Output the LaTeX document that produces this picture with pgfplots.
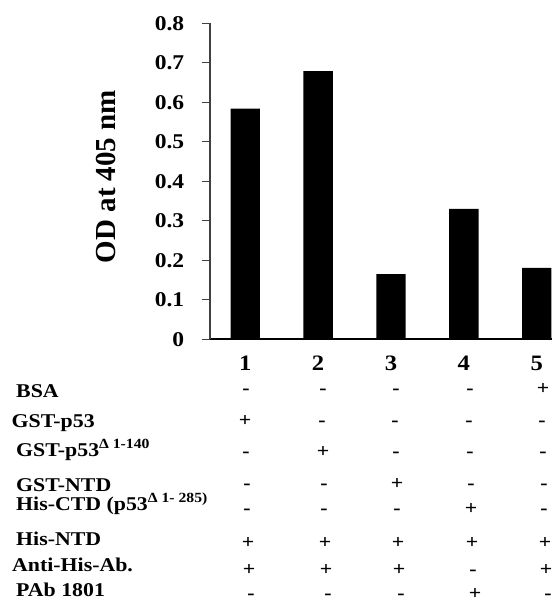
\documentclass[border=0pt]{standalone}
\usepackage{pgfplots}
\pgfplotsset{compat=1.18}
\usepackage{fontspec}
\setmainfont{Liberation Serif}
\newfontfamily\wide{Liberation Serif}[FakeStretch=1.12]
\newcommand\tfont{\wide\bfseries\fontsize{19.5bp}{22bp}\selectfont}
\newcommand\sfont{\wide\bfseries\fontsize{14bp}{15bp}\selectfont}
% signs row: #1 = centre y of the signs, #2 = x drift, #3..#7 = signs
\newcommand\signs[7]{%
  \node[font=\tfont,inner sep=0pt,anchor=base] at ({246+#2},{-#1-4.6}) {#3};
  \node[font=\tfont,inner sep=0pt,anchor=base] at ({323+#2},{-#1-4.6}) {#4};
  \node[font=\tfont,inner sep=0pt,anchor=base] at ({396+#2},{-#1-4.6}) {#5};
  \node[font=\tfont,inner sep=0pt,anchor=base] at ({470+#2},{-#1-4.6}) {#6};
  \node[font=\tfont,inner sep=0pt,anchor=base] at ({543+#2},{-#1-4.6}) {#7};
}
\begin{document}
\begin{tikzpicture}[x=1bp,y=1bp]
\path[use as bounding box] (0,0) rectangle (556,-603);
\begin{axis}[
  at={(210bp,-339.3bp)}, anchor=south west,
  scale only axis, width=342bp, height=316bp,
  xmin=0.517, xmax=5.209, ymin=0, ymax=0.8,
  axis lines=left,
  x axis line style={-, black, line width=1.8bp},
  y axis line style={-, black!75, line width=1.1bp},
  ytick={0,0.1,0.2,0.3,0.4,0.5,0.6,0.7,0.8},
  yticklabels={0,0.1,0.2,0.3,0.4,0.5,0.6,0.7,0.8},
  xtick={1,2,3,4,5},
  xticklabels={1,2,3,4,5},
  tick align=outside,
  major tick length=8bp,
  ytick style={black!75, line width=1.1bp},
  xtick style={draw=none},
  yticklabel style={font=\wide\bfseries\fontsize{21bp}{24bp}\selectfont, anchor=east, inner sep=0pt, xshift=-17.6bp},
  xticklabel style={font=\wide\bfseries\fontsize{22bp}{24bp}\selectfont, anchor=base, inner sep=0pt, yshift=-23.5bp},
  ylabel={OD at 405 nm},
  ylabel style={font=\bfseries\fontsize{29bp}{32bp}\selectfont, at={(axis description cs:-0.305,0.515)}, anchor=center},
  clip=false,
]
\addplot[ybar, bar width=29.4bp, bar shift=0pt, fill=black, draw=none]
  coordinates {(1,0.584) (2,0.679) (3,0.165) (4,0.330) (5,0.181)};
\end{axis}
% row labels
\node[anchor=base west, inner sep=0pt, font=\tfont] at (16,-397.3) {BSA};
\node[anchor=base west, inner sep=0pt, font=\tfont] at (11.5,-427) {GST-p53};
\node[anchor=base west, inner sep=0pt, font=\tfont] at (16,-456) {GST-p53\raisebox{7.5bp}{\sfont Δ 1-140}};
\node[anchor=base west, inner sep=0pt, font=\tfont] at (16,-491.5) {GST-NTD};
\node[anchor=base west, inner sep=0pt, font=\tfont] at (16,-510) {His-CTD (p53\raisebox{7.5bp}{\sfont Δ 1- 285)}};
\node[anchor=base west, inner sep=0pt, font=\tfont] at (16,-545) {His-NTD};
\node[anchor=base west, inner sep=0pt, font=\tfont] at (12,-571.7) {Anti-His-Ab.};
\node[anchor=base west, inner sep=0pt, font=\tfont] at (16,-596.7) {PAb 1801};
% signs
\signs{390}{0}{-}{-}{-}{-}{+}
\signs{421.7}{-1}{+}{-}{-}{-}{-}
\signs{453.3}{0}{-}{+}{-}{-}{-}
\signs{485}{1}{-}{-}{+}{-}{-}
\signs{510}{1}{-}{-}{-}{+}{-}
\signs{544}{2}{+}{+}{+}{+}{+}
\signs{570.7}{3}{+}{+}{+}{-}{+}
\signs{595}{5}{-}{-}{-}{+}{-}
\end{tikzpicture}
\end{document}
